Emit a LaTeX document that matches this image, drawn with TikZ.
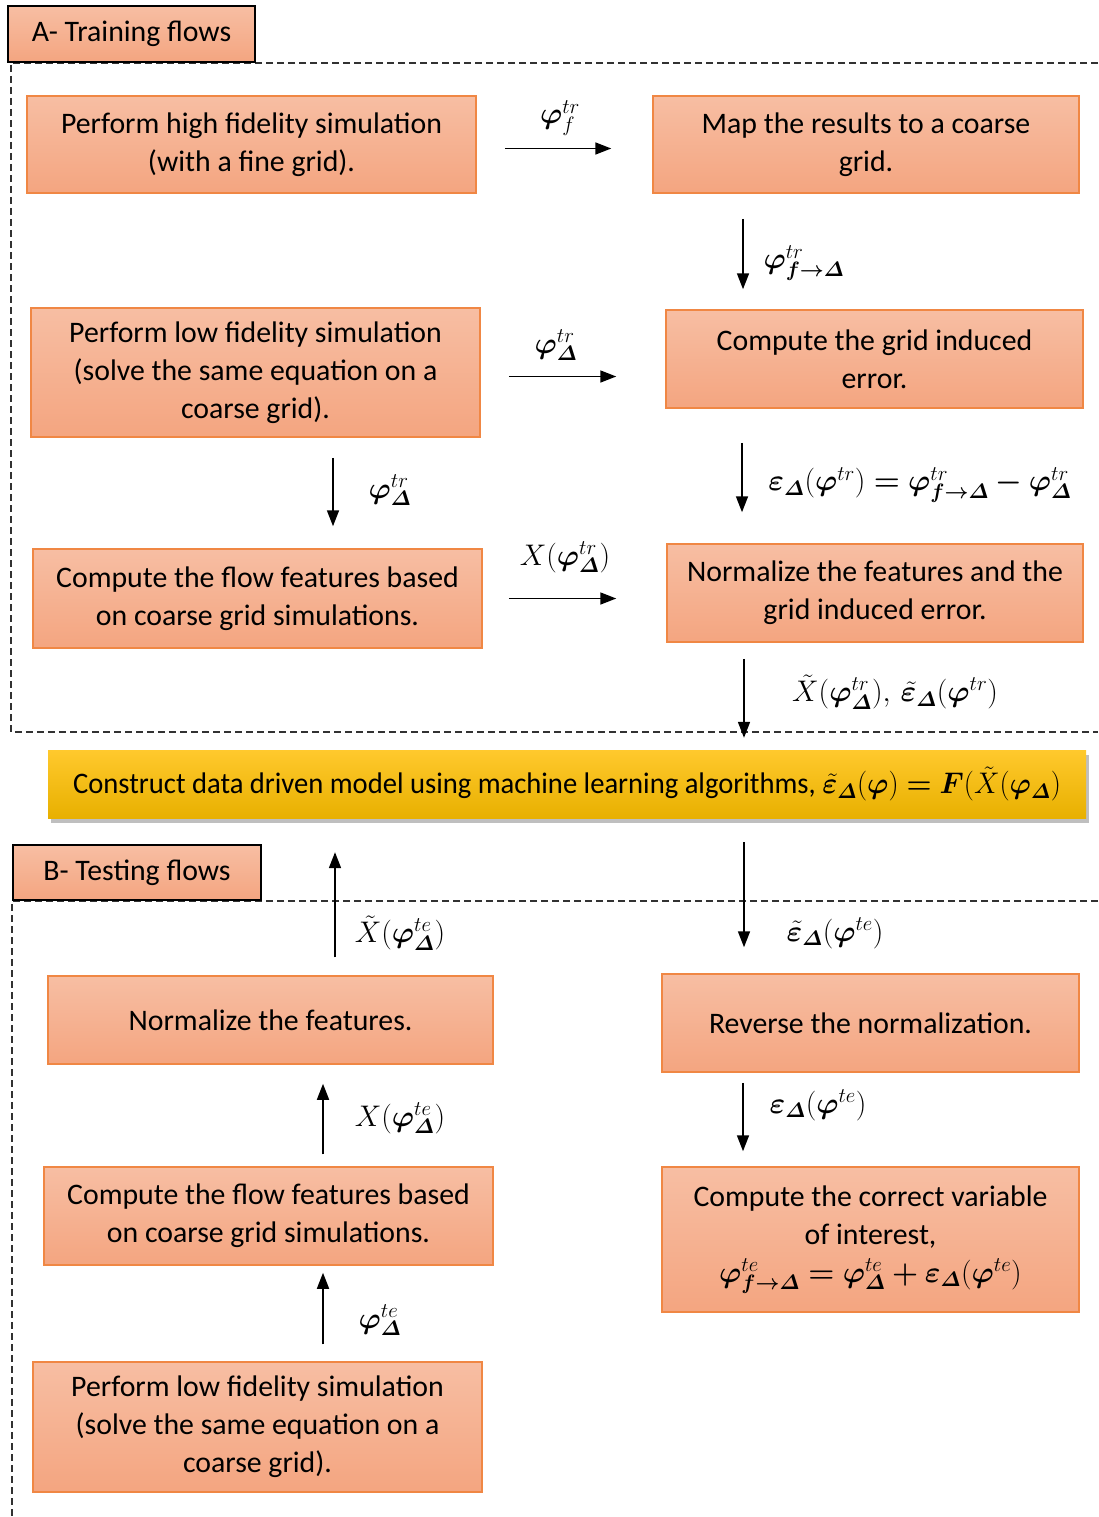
\RequirePackage{fix-cm}
\documentclass[tikz,border=0pt]{standalone}
\usepackage{amsmath}
\usepackage{fontspec}
\setmainfont{Carlito}
\usepackage{bm}
\usetikzlibrary{arrows.meta,shadows}

\definecolor{boxtop}{RGB}{247,190,163}
\definecolor{boxbot}{RGB}{244,165,128}
\definecolor{boxline}{RGB}{240,135,68}
\definecolor{goldtop}{RGB}{255,201,45}
\definecolor{goldbot}{RGB}{232,176,0}
\definecolor{frameline}{RGB}{50,50,50}

\newcommand{\vphi}{\bm{\varphi}}
\newcommand{\dlt}{\bm{\varDelta}}
\newcommand{\epsb}{\bm{\varepsilon}}

\tikzset{
  stepbox/.style={draw=boxline, line width=1.5pt, top color=boxtop, bottom color=boxbot,
    align=center, inner sep=0pt},
  headbox/.style={draw=black, line width=2pt, top color=boxtop, bottom color=boxbot, inner sep=0pt},
  modelbox/.style={top color=goldtop, bottom color=goldbot, inner sep=0pt,
    drop shadow={shadow xshift=3pt, shadow yshift=-5pt, opacity=.5}},
  flow/.style={line width=1.7pt, -{Triangle[length=16pt,width=12pt]}},
  frame/.style={frameline, line width=1.7pt, dash pattern=on 7pt off 4pt},
  lbl/.style={inner sep=0pt}
}

\begin{document}
\begin{tikzpicture}[x=1pt, y=-1pt, font=\fontsize{29.8}{38}\selectfont]
\useasboundingbox (0,0) rectangle (1098,1517);
\coordinate (rcol) at (743,0);
\coordinate (lcol) at (333,0);
\coordinate (tcol) at (323,0);

% dashed frames of the two parts
\draw[frame] (1098,63) -| (11,732) -- (1098,732);
\draw[frame] (1098,901) -| (12,1517);
\node[headbox, minimum width=247pt, minimum height=56pt] (headA) at (131.5,34) {A- Training flows};
\node[headbox, minimum width=248pt, minimum height=55pt] (headB) at (137,872.5) {B- Testing flows};

% training
\node[stepbox, minimum width=449pt, minimum height=97pt] (hifi) at (251.5,144.5)
  {Perform high fidelity simulation\\(with a fine grid).};
\node[stepbox, minimum width=426pt, minimum height=97pt] (mapc) at (866,144.5)
  {Map the results to a coarse\\grid.};
\node[stepbox, minimum width=449pt, minimum height=129pt] (lofi) at (255.5,372.5)
  {Perform low fidelity simulation\\(solve the same equation on a\\coarse grid).};
\node[stepbox, minimum width=417pt, minimum height=98pt] (gerr) at (874.5,359)
  {Compute the grid induced\\error.};
\node[stepbox, minimum width=449pt, minimum height=99pt] (feat) at (257.5,598.5)
  {Compute the flow features based\\on coarse grid simulations.};
\node[stepbox, minimum width=416pt, minimum height=98pt] (norm) at (875,593)
  {Normalize the features and the\\grid induced error.};

\draw[flow, shorten <=28pt, shorten >=41pt] ([yshift=-4pt]hifi.east) -- ([yshift=-4pt]hifi.east -| mapc.west);
\draw[flow, shorten <=28pt, shorten >=49pt] ([yshift=-4pt]lofi.east) -- ([yshift=-4pt]lofi.east -| gerr.west);
\draw[flow, shorten <=26pt, shorten >=50pt] (feat.east) -- (feat.east -| norm.west);
\draw[flow, shorten <=25pt, shorten >=20pt] (mapc.south -| rcol) -- (gerr.north -| rcol);
\draw[flow, shorten <=20pt, shorten >=22pt] (lofi.south -| lcol) -- (feat.north -| lcol);
\draw[flow, shorten <=34pt, shorten >=31pt] ([xshift=-1pt]gerr.south -| rcol) -- ([xshift=-1pt]norm.north -| rcol);

\node[lbl] (l1) at (560,118) {$\vphi^{tr}_{f}$};
\node[lbl] (l2) at (804,263) {$\vphi^{tr}_{\bm{f\to\varDelta}}$};
\node[lbl] (l3) at (556,345) {$\vphi^{tr}_{\dlt}$};
\node[lbl] (l4) at (390,490) {$\vphi^{tr}_{\dlt}$};
\node[lbl] (l5) at (920,485) {$\epsb_{\dlt}(\vphi^{tr}) \bm{=} \vphi^{tr}_{\bm{f\to\varDelta}} \bm{-} \vphi^{tr}_{\dlt}$};
\node[lbl] (l6) at (565,557) {$X(\vphi^{tr}_{\dlt})$};
\node[lbl] (l7) at (895,692) {$\tilde{X}(\vphi^{tr}_{\dlt}),\, \tilde{\epsb}_{\dlt}(\vphi^{tr})$};

% the model in the middle
\node[modelbox, minimum width=1038pt, minimum height=68pt] (model) at (567,784)
  {\scalebox{0.96}[1]{Construct data driven model using machine learning algorithms, $\tilde{\epsb}_{\dlt}(\vphi) \bm{=} \bm{F}(\tilde{X}(\vphi_{\dlt})$}};
\draw[flow, shorten <=16pt, shorten >=12pt] ([xshift=1pt]norm.south -| rcol) -- ([xshift=1pt]model.north -| rcol);

% testing
\node[stepbox, minimum width=445pt, minimum height=88pt] (nfeat) at (270.5,1020)
  {Normalize the features.};
\node[stepbox, minimum width=417pt, minimum height=98pt] (rnorm) at (870.5,1023)
  {Reverse the normalization.};
\node[stepbox, minimum width=449pt, minimum height=98pt] (tfeat) at (268.5,1216)
  {Compute the flow features based\\on coarse grid simulations.};
\node[stepbox, minimum width=417pt, minimum height=145pt] (corr) at (870.5,1239.5)
  {Compute the correct variable\\of interest,\\$\vphi^{te}_{\bm{f\to\varDelta}} \bm{=} \vphi^{te}_{\dlt} \bm{+} \epsb_{\dlt}(\vphi^{te})$};
\node[stepbox, minimum width=449pt, minimum height=130pt] (tlofi) at (257.5,1427)
  {Perform low fidelity simulation\\(solve the same equation on a\\coarse grid).};

\draw[flow, shorten <=18pt, shorten >=34pt] ([xshift=2pt]nfeat.north -| lcol) -- ([xshift=2pt]model.south -| lcol);
\draw[flow, shorten <=24pt, shorten >=26pt] ([xshift=1pt]model.south -| rcol) -- ([xshift=1pt]rnorm.north -| rcol);
\draw[flow, shorten <=12pt, shorten >=19pt] (tfeat.north -| tcol) -- (nfeat.south -| tcol);
\draw[flow, shorten <=10pt, shorten >=15pt] (rnorm.south -| rcol) -- (corr.north -| rcol);
\draw[flow, shorten <=17pt, shorten >=7pt] (tlofi.north -| tcol) -- (tfeat.south -| tcol);

\node[lbl] (l8) at (400,933) {$\tilde{X}(\vphi^{te}_{\dlt})$};
\node[lbl] (l9) at (835,933) {$\tilde{\epsb}_{\dlt}(\vphi^{te})$};
\node[lbl] (l10) at (400,1118) {$X(\vphi^{te}_{\dlt})$};
\node[lbl] (l11) at (818,1105) {$\epsb_{\dlt}(\vphi^{te})$};
\node[lbl] (l12) at (380,1320) {$\vphi^{te}_{\dlt}$};
\end{tikzpicture}
\end{document}
